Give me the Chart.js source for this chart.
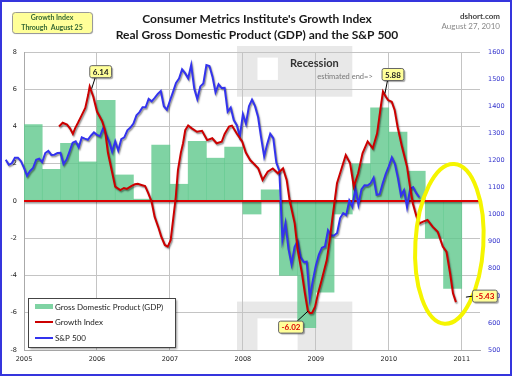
<!DOCTYPE html>
<html>
<head>
<meta charset="utf-8">
<script src="https://cdn.jsdelivr.net/npm/chart.js@4/dist/chart.umd.min.js"></script>
<style>
html, body { margin: 0; padding: 0; background: #fff; }
canvas { display: block; }
</style>
</head>
<body>
<canvas id="gdpChart" width="512" height="376"></canvas>
<script>
// Real GDP, quarterly annualised % (last two quarters sit inside the yellow ring)
const gdpQuarters = ['2005Q1','2005Q2','2005Q3','2005Q4','2006Q1','2006Q2','2006Q3','2006Q4',
                     '2007Q1','2007Q2','2007Q3','2007Q4','2008Q1','2008Q2','2008Q3','2008Q4',
                     '2009Q1','2009Q2','2009Q3','2009Q4','2010Q1','2010Q2','2010Q3','2010Q4'];
const gdpValues = [4.1, 1.7, 3.1, 2.1, 5.4, 1.4, 0.1, 3.0,
                   0.9, 3.2, 2.3, 2.9, -0.7, 0.6, -4.0, -6.8,
                   -4.9, -0.7, 2.0, 5.0, 3.7, 1.6, -2.0, -4.7];

// Growth Index (left axis)
const giDates = [2005.48,2005.53,2005.59,2005.63,2005.67,2005.70,2005.74,2005.79,2005.84,2005.88,
                 2005.90,2005.95,2006.00,2006.07,2006.11,2006.15,2006.21,2006.25,2006.32,2006.37,
                 2006.41,2006.47,2006.52,2006.56,2006.62,2006.66,2006.70,2006.75,2006.79,2006.84,
                 2006.88,2006.93,2006.97,2007.01,2007.05,2007.08,2007.11,2007.15,2007.18,2007.21,
                 2007.25,2007.30,2007.37,2007.44,2007.51,2007.58,2007.64,2007.71,2007.75,2007.81,
                 2007.85,2007.92,2007.99,2008.04,2008.10,2008.15,2008.21,2008.27,2008.34,2008.41,
                 2008.48,2008.55,2008.60,2008.64,2008.71,2008.75,2008.81,2008.85,2008.89,2008.92,
                 2008.95,2008.99,2009.03,2009.08,2009.15,2009.19,2009.23,2009.29,2009.36,2009.41,
                 2009.47,2009.52,2009.58,2009.64,2009.71,2009.78,2009.84,2009.89,2009.92,2009.96,
                 2009.99,2010.04,2010.08,2010.12,2010.18,2010.25,2010.29,2010.33,2010.38,2010.42,
                 2010.47,2010.53,2010.60,2010.67,2010.74,2010.79,2010.84,2010.88,2010.92];
const giValues = [4.0,4.2,4.1,3.9,3.6,3.9,4.2,4.6,5.0,5.7,
                  6.14,5.6,4.8,4.3,3.8,2.6,1.5,0.77,0.59,0.7,
                  0.65,0.8,0.9,0.92,0.85,0.8,0.45,-0.05,-0.84,-1.4,
                  -1.9,-2.36,-2.45,-2.1,-0.8,0.2,1.66,2.6,3.1,3.8,
                  4.05,3.9,3.72,3.77,3.27,3.37,3.1,3.18,3.6,4.0,
                  4.05,3.6,3.2,2.6,2.2,2.0,1.75,1.13,1.57,1.75,
                  1.49,1.75,1.13,0.05,-1.2,-2.6,-3.9,-4.96,-5.9,-6.02,
                  -6.0,-5.67,-4.96,-4.24,-3.17,-2.09,-0.84,0.95,1.84,2.47,
                  2.02,0.77,1.49,2.56,3.2,2.83,3.63,5.06,5.88,5.6,
                  5.42,5.33,4.89,3.99,2.92,1.84,0.77,-0.13,-0.84,-1.2,
                  -1.11,-1.02,-1.38,-1.65,-2.45,-2.72,-3.88,-4.96,-5.43];

// S&P 500, twice a month from Jan 2005 to Aug 2010 (right axis)
const spValues = [1202,1184,1189,1210,1210,1197,1172,1143,1161,1172,1202,1206,
                  1194,1227,1235,1220,1221,1227,1228,1186,1203,1233,1265,1270,
                  1248,1285,1280,1276,1291,1303,1294,1289,1318,1295,1270,1232,
                  1270,1236,1278,1285,1311,1321,1336,1366,1378,1396,1396,1427,
                  1418,1431,1445,1456,1400,1387,1420,1452,1486,1502,1536,1522,
                  1503,1552,1465,1426,1473,1484,1552,1548,1509,1451,1481,1467,
                  1468,1380,1395,1349,1330,1288,1370,1335,1400,1424,1400,1360,
                  1284,1214,1260,1298,1282,1192,1161,907,968,873,816,880,
                  903,843,825,826,690,756,811,852,877,882,942,923,
                  923,932,987,1005,998,1052,1029,1096,1036,1093,1108,1107,
                  1115,1136,1073,1075,1115,1150,1178,1211,1187,1135,1070,1090,
                  1027,1095,1101,1080,1064];
const spStart = 2004.75;   // the source plots this series one quarter early
const spStep = 1 / 24;

const yearTicks = [2005, 2006, 2007, 2008, 2009, 2010, 2011];
const xMin = 2005, xMax = 2011.25;
const recession = { start: 2007.92, end: 2009.5 };

const callouts = [
    { date: 2005.90, value: 6.14, text: '6.14', dx: 11, dy: -15, red: false },
    { date: 2009.92, value: 5.88, text: '5.88', dx: 10, dy: -17, red: false },
    { date: 2008.92, value: -6.02, text: '-6.02', dx: -19, dy: 14, red: true },
    { date: 2010.92, value: -5.43, text: '-5.43', dx: 29, dy: -6, red: true }
];

const gdpPoints = gdpQuarters.map((q, i) => ({
    x: parseInt(q.slice(0, 4)) + (parseInt(q.slice(5)) - 1) / 4 + 0.125,
    y: gdpValues[i]
}));
const giPoints = giDates.map((d, i) => ({ x: d, y: giValues[i] }));
const spPoints = spValues.map((v, i) => ({ x: spStart + i * spStep, y: v }));

function roundRect(ctx, x, y, w, h, r) {
    ctx.beginPath();
    ctx.moveTo(x + r, y);
    ctx.arcTo(x + w, y, x + w, y + h, r);
    ctx.arcTo(x + w, y + h, x, y + h, r);
    ctx.arcTo(x, y + h, x, y, r);
    ctx.arcTo(x, y, x + w, y, r);
    ctx.closePath();
}

const decorPlugin = {
    id: 'decor',
    beforeDraw(chart) {
        const { ctx, scales } = chart;
        const x = scales.x, y = scales.y;
        const x0 = x.getPixelForValue(recession.start), x1 = x.getPixelForValue(recession.end);
        ctx.save();
        ctx.fillStyle = '#e8e8e8';
        // top band
        ctx.fillRect(x0, y.getPixelForValue(8) - 6, x1 - x0, y.getPixelForValue(5.6) - y.getPixelForValue(8) + 6);
        // bottom band
        ctx.fillRect(x0, y.getPixelForValue(-5.4), x1 - x0, y.getPixelForValue(-8) - y.getPixelForValue(-5.4));
        ctx.fillStyle = '#ffffff';
        ctx.fillRect(x.getPixelForValue(2008.2), y.getPixelForValue(7.7), x.getPixelForValue(2008.48) - x.getPixelForValue(2008.2), y.getPixelForValue(6.5) - y.getPixelForValue(7.7));
        ctx.fillRect(x.getPixelForValue(2008.2), y.getPixelForValue(-6.3), x.getPixelForValue(2008.75) - x.getPixelForValue(2008.2), y.getPixelForValue(-8) - y.getPixelForValue(-6.3));
        ctx.restore();
    },
    beforeDatasetDraw(chart, args) {
        if (args.meta.type === 'line') {
            const ctx = chart.ctx;
            ctx.save();
            ctx.shadowColor = 'rgba(0,0,0,0.45)';
            ctx.shadowBlur = 1.5;
            ctx.shadowOffsetX = 1;
            ctx.shadowOffsetY = 1.5;
        }
    },
    afterDatasetDraw(chart, args) {
        if (args.meta.type === 'line') chart.ctx.restore();
    },
    afterDraw(chart) {
        const { ctx, scales } = chart;
        const x = scales.x, y = scales.y;
        ctx.save();

        // recession note
        ctx.textAlign = 'center';
        ctx.textBaseline = 'middle';
        ctx.fillStyle = '#333';
        ctx.font = 'bold 11px Lato, "Open Sans", sans-serif';
        ctx.fillText('Recession', x.getPixelForValue(2008.98), y.getPixelForValue(7.4));
        ctx.fillStyle = '#777';
        ctx.font = '7.5px Lato, "Open Sans", sans-serif';
        ctx.fillText('estimated end=>', x.getPixelForValue(2009.4), y.getPixelForValue(6.7));

        // yellow ring around the latest readings
        ctx.beginPath();
        ctx.ellipse(x.getPixelForValue(2010.83), y.getPixelForValue(-2.3), 34, 80, 0.06, 0, Math.PI * 2);
        ctx.strokeStyle = '#f5f500';
        ctx.lineWidth = 4;
        ctx.stroke();

        // callouts
        callouts.forEach(c => {
            const px = x.getPixelForValue(c.date), py = y.getPixelForValue(c.value);
            const bx = px + c.dx, by = py + c.dy;
            ctx.font = 'bold 8px Lato, "Open Sans", sans-serif';
            const w = ctx.measureText(c.text).width + 6, h = 12;
            ctx.strokeStyle = '#000';
            ctx.lineWidth = 1;
            ctx.beginPath();
            const ax = c.dx > 20 ? bx - w / 2 : bx - w / 4 * Math.sign(c.dx);
            const ay = c.dx > 20 ? by : by - h / 2 * Math.sign(c.dy);
            ctx.moveTo(ax, ay);
            const tx = c.dx > 20 ? px + 10 : px + 2 * Math.sign(c.dx);
            const ty = c.dx > 20 ? by + 1 : py - 2 * Math.sign(c.dy);
            ctx.lineTo(tx, ty);
            ctx.stroke();
            ctx.save();
            ctx.shadowColor = 'rgba(0,0,0,0.35)';
            ctx.shadowOffsetX = 1.5;
            ctx.shadowOffsetY = 1.5;
            ctx.shadowBlur = 1;
            roundRect(ctx, bx - w / 2, by - h / 2, w, h, 2);
            ctx.fillStyle = '#ffff99';
            ctx.fill();
            ctx.restore();
            roundRect(ctx, bx - w / 2, by - h / 2, w, h, 2);
            ctx.strokeStyle = '#666';
            ctx.stroke();
            ctx.fillStyle = c.red ? '#dd0000' : '#222';
            ctx.fillText(c.text, bx, by + 0.5);
        });

        // legend
        const lx = 28, ly = 298, lw = 147, lh = 49;
        ctx.save();
        ctx.shadowColor = 'rgba(0,0,0,0.4)';
        ctx.shadowOffsetX = 2;
        ctx.shadowOffsetY = 2;
        ctx.shadowBlur = 2;
        ctx.fillStyle = '#fff';
        ctx.fillRect(lx, ly, lw, lh);
        ctx.restore();
        ctx.strokeStyle = '#444';
        ctx.lineWidth = 1;
        ctx.strokeRect(lx + 0.5, ly + 0.5, lw, lh);
        ctx.textAlign = 'left';
        ctx.font = '8px Lato, "Open Sans", sans-serif';
        ctx.fillStyle = 'rgba(95,200,140,0.8)';
        ctx.fillRect(lx + 7, ly + 6, 18, 5);
        ctx.fillStyle = '#222';
        ctx.fillText('Gross Domestic Product (GDP)', lx + 27, ly + 9);
        ctx.strokeStyle = '#cc0000';
        ctx.lineWidth = 2;
        ctx.beginPath(); ctx.moveTo(lx + 7, ly + 24); ctx.lineTo(lx + 25, ly + 24); ctx.stroke();
        ctx.fillText('Growth Index', lx + 27, ly + 24);
        ctx.strokeStyle = '#3333ee';
        ctx.beginPath(); ctx.moveTo(lx + 7, ly + 40); ctx.lineTo(lx + 25, ly + 40); ctx.stroke();
        ctx.fillText('S&P 500', lx + 27, ly + 40);

        // titles
        ctx.textAlign = 'center';
        ctx.fillStyle = '#1a1a1a';
        ctx.font = 'bold 12px Lato, "Open Sans", sans-serif';
        ctx.fillText("Consumer Metrics Institute's Growth Index", 257, 19);
        ctx.fillText('Real Gross Domestic Product (GDP) and the S&P 500', 257, 35);

        ctx.textAlign = 'right';
        ctx.font = 'bold 8px Lato, "Open Sans", sans-serif';
        ctx.fillStyle = '#444';
        ctx.fillText('dshort.com', 500, 16);
        ctx.font = '8px Lato, "Open Sans", sans-serif';
        ctx.fillStyle = '#888';
        ctx.fillText('August 27, 2010', 500, 26);

        // "through" box
        ctx.save();
        ctx.shadowColor = 'rgba(0,0,0,0.3)';
        ctx.shadowOffsetX = 1;
        ctx.shadowOffsetY = 1;
        ctx.shadowBlur = 1;
        roundRect(ctx, 12, 12, 80, 21, 3);
        ctx.fillStyle = '#ffff99';
        ctx.fill();
        ctx.restore();
        roundRect(ctx, 12.5, 12.5, 80, 21, 3);
        ctx.strokeStyle = '#999';
        ctx.lineWidth = 1;
        ctx.stroke();
        ctx.textAlign = 'center';
        ctx.font = 'bold 7px Lato, "Open Sans", sans-serif';
        ctx.fillStyle = '#336633';
        ctx.fillText('Growth Index', 52, 18);
        ctx.fillText('Through  August 25', 52, 28);

        // frame
        ctx.strokeStyle = '#3535dd';
        ctx.lineWidth = 2;
        ctx.strokeRect(1, 1, 510, 374);
        ctx.restore();
    }
};

const canvas = document.getElementById('gdpChart');
const ctx = canvas.getContext('2d');

new Chart(ctx, {
    type: 'bar',
    data: {
        datasets: [
            {
                type: 'line',
                label: 'Growth Index',
                data: giPoints,
                yAxisID: 'y',
                borderColor: '#cc0000',
                borderWidth: 2,
                pointRadius: 0,
                tension: 0,
                order: 1
            },
            {
                type: 'line',
                label: 'S&P 500',
                data: spPoints,
                xAxisID: 'x2',
                yAxisID: 'y1',
                borderColor: '#3333ee',
                borderWidth: 2,
                pointRadius: 0,
                tension: 0,
                clip: false,
                order: 2
            },
            {
                type: 'line',
                label: 'zero',
                data: [{ x: xMin, y: 0 }, { x: xMax, y: 0 }],
                yAxisID: 'y',
                borderColor: '#dd0000',
                borderWidth: 2,
                pointRadius: 0,
                order: 3
            },
            {
                label: 'Gross Domestic Product (GDP)',
                data: gdpPoints,
                yAxisID: 'y',
                backgroundColor: 'rgba(95,200,140,0.8)',
                borderWidth: 0,
                barPercentage: 1,
                categoryPercentage: 1,
                grouped: false,
                order: 4
            }
        ]
    },
    options: {
        responsive: false,
        animation: false,
        layout: { padding: { top: 52, left: 0, right: 0, bottom: 0 } },
        plugins: {
            legend: { display: false },
            tooltip: { enabled: false },
            title: { display: false }
        },
        scales: {
            x: {
                type: 'linear',
                min: xMin,
                max: xMax,
                offset: false,
                afterBuildTicks: scale => { scale.ticks = yearTicks.map(v => ({ value: v })); },
                afterFit: scale => { scale.height = 26; },
                ticks: {
                    padding: 5,
                    maxRotation: 0,
                    font: { family: 'DejaVu Sans', size: 6.5 },
                    color: '#222',
                    callback: v => String(v)
                },
                grid: { color: '#c4c4c4', offset: false, drawTicks: false },
                border: { color: '#aaa' }
            },
            // same range as x, but without user bounds so the S&P line keeps its early start
            x2: {
                type: 'linear',
                display: false,
                offset: false,
                afterBuildTicks: scale => {
                    scale.min = xMin;
                    scale.max = xMax;
                    scale.ticks = yearTicks.map(v => ({ value: v }));
                }
            },
            y: {
                position: 'left',
                min: -8,
                max: 8,
                afterFit: scale => { scale.width = 24; },
                ticks: {
                    stepSize: 2,
                    padding: 7,
                    font: { family: 'DejaVu Sans', size: 6.5 },
                    color: '#222'
                },
                grid: { color: '#c4c4c4', drawTicks: false },
                border: { color: '#aaa' }
            },
            y1: {
                position: 'right',
                min: 500,
                max: 1600,
                afterFit: scale => { scale.width = 32; },
                ticks: {
                    stepSize: 100,
                    padding: 8,
                    font: { family: 'DejaVu Sans', size: 6.5 },
                    color: '#3333cc',
                    callback: v => String(v)
                },
                grid: { drawOnChartArea: false, drawTicks: false },
                border: { display: false }
            }
        }
    },
    plugins: [decorPlugin]
});
</script>
</body>
</html>
